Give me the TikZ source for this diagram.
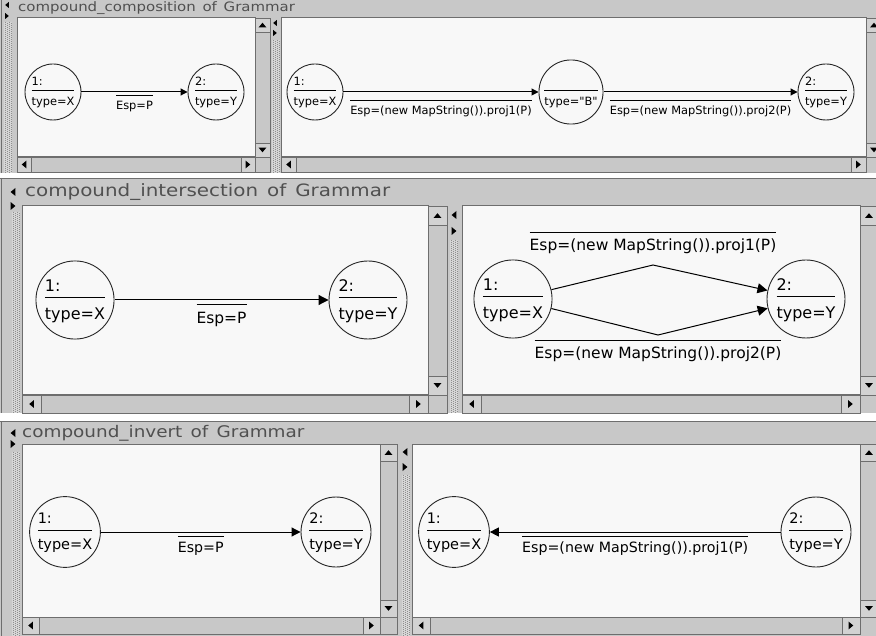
\documentclass[tikz,border=0pt]{standalone}
\usepackage{fontspec}
\setmainfont{DejaVu Sans}
\newfontfamily\rawfont{DejaVu Sans}
\usetikzlibrary{arrows.meta}
\setlength{\arrayrulewidth}{0.9pt}
\definecolor{chrome}{HTML}{C8C8C8}
\definecolor{canvas}{HTML}{F8F8F8}
\definecolor{frame}{HTML}{6E6E6E}
\definecolor{ttlgray}{HTML}{505050}
\definecolor{btn}{HTML}{D2D2D2}
\definecolor{dots}{HTML}{8E8E8E}
\definecolor{stripbg}{HTML}{D6D6D6}
\newcommand{\ndtext}[2]{\begin{tabular}{@{}l@{}}\rule[-0.4em]{0pt}{1.4em}#1\\\hline\rule[-0.1em]{0pt}{1.4em}#2\end{tabular}}
\newcommand{\oltext}[1]{\begin{tabular}{@{}c@{}}\hline\rule{0pt}{1.15em}#1\end{tabular}}
\newcommand{\tU}[3]{\fill ({#1-#3},{#2+0.6*#3}) -- ({#1+#3},{#2+0.6*#3}) -- ({#1},{#2-0.6*#3}) -- cycle;}
\newcommand{\tD}[3]{\fill ({#1-#3},{#2-0.6*#3}) -- ({#1+#3},{#2-0.6*#3}) -- ({#1},{#2+0.6*#3}) -- cycle;}
\newcommand{\tL}[3]{\fill ({#1+0.6*#3},{#2-#3}) -- ({#1+0.6*#3},{#2+#3}) -- ({#1-0.6*#3},{#2}) -- cycle;}
\newcommand{\tR}[3]{\fill ({#1-0.6*#3},{#2-#3}) -- ({#1-0.6*#3},{#2+#3}) -- ({#1+0.6*#3},{#2}) -- cycle;}
% vertical scrollbar: x1 y1 x2 y2 button
\newcommand{\vsb}[5]{%
 \pgfmathsetmacro{\sbcx}{(#1+#3)/2}\pgfmathsetmacro{\sbuy}{#2+#5/2}\pgfmathsetmacro{\sbdy}{#4-#5/2}%
 \filldraw[sbtrack] (#1,#2) rectangle (#3,#4);
 \filldraw[sbbtn] (#1,#2) rectangle (#3,#2+#5);
 \filldraw[sbbtn] (#1,#4-#5) rectangle (#3,#4);
 \tU{\sbcx}{\sbuy}{3.8}\tD{\sbcx}{\sbdy}{3.8}}
% horizontal scrollbar: x1 y1 x2 y2 button
\newcommand{\hsb}[5]{%
 \pgfmathsetmacro{\sbcy}{(#2+#4)/2}\pgfmathsetmacro{\sblx}{#1+#5/2}\pgfmathsetmacro{\sbrx}{#3-#5/2}%
 \filldraw[sbtrack] (#1,#2) rectangle (#3,#4);
 \filldraw[sbbtn] (#1,#2) rectangle (#1+#5,#4);
 \filldraw[sbbtn] (#3-#5,#2) rectangle (#3,#4);
 \tL{\sblx}{\sbcy}{3.8}\tR{\sbrx}{\sbcy}{3.8}}
% stippled splitter strip: x1 y1 y2
\newcommand{\dstrip}[3]{%
 \fill[stripbg] (#1,#2) rectangle (#1+8,#3);
 \foreach \k in {0,2}{\draw[stipple] ({#1+1+2*\k},#2) -- ({#1+1+2*\k},#3);}
 \foreach \k in {1,3}{\draw[stipple, dash phase=1pt] ({#1+1+2*\k},#2) -- ({#1+1+2*\k},#3);}}
\begin{document}
\begin{tikzpicture}[x=1pt,y=-1pt,
 cv/.style={fill=canvas, draw=frame, line width=1pt},
 sbtrack/.style={fill=chrome, draw=frame, line width=0.8pt},
 sbbtn/.style={fill=btn, draw=frame, line width=0.8pt},
 stipple/.style={draw=dots, line width=0.8pt, dash pattern=on 1pt off 1pt},
 nd/.style={circle, draw=black!85, line width=0.9pt, inner sep=0pt, text=black},
 ndA/.style={nd, minimum size=56pt, font=\fontsize{11.4}{13}\selectfont},
 ndB/.style={nd, minimum size=78pt, font=\fontsize{16}{19}\selectfont},
 ndC/.style={nd, minimum size=70pt, font=\fontsize{14.5}{17}\selectfont},
 conn/.style={draw=black, line width=1pt, -{Triangle[length=#1, width=#1]}},
 lblA/.style={inner sep=0pt, font=\fontsize{11.4}{13}\selectfont},
 lblB/.style={inner sep=0pt, font=\fontsize{15.5}{18}\selectfont},
 lblC/.style={inner sep=0pt, font=\fontsize{14.2}{17}\selectfont},
 ttl/.style={anchor=west, inner sep=0pt, text=ttlgray},
]
\useasboundingbox (0,0) rectangle (876,636);
\clip (0,0) rectangle (876,636);
\fill[white] (0,0) rectangle (876,636);

% ================= PANEL 1 =================
\fill[chrome] (0,0) rectangle (876,173);
\draw[frame, line width=1pt] (1,0) -- (1,173);
\node[ttl, font=\fontsize{13}{15}\selectfont] (t1) at (18,8) {\scalebox{1.15}[1]{compound\_composition\hspace{0.45em}of\hspace{0.45em}Grammar}};
\dstrip{4}{22}{173}
\tL{7}{5}{3}\tR{7}{16}{3}
\filldraw[cv] (17,18) rectangle (255,157);
\vsb{255}{18}{270}{157}{14}
\hsb{17}{157}{255}{172}{14}
\filldraw[sbtrack] (255,157) rectangle (270,172);
\dstrip{272}{40}{173}
\tL{275}{23}{3}\tR{275}{33}{3}
\filldraw[cv] (281,18) rectangle (866,157);
\vsb{866}{18}{882}{157}{14}
\hsb{281}{157}{866}{172}{15}

\node[ndA] (a1) at (53,92) {\ndtext{1:}{type=X}};
\node[ndA] (a2) at (216,92) {\ndtext{2:}{type=Y}};
\draw[conn=7pt] (a1) -- (a2) node[lblA, midway, anchor=north, yshift=-3pt] (la) {\oltext{Esp=P}};

\node[ndA] (b1) at (315,92) {\ndtext{1:}{type=X}};
\node[ndA, minimum size=62pt] (bb) at (571,92) {\ndtext{}{{\rawfont type="B"}}};
\node[ndA] (b2) at (826,92) {\ndtext{2:}{type=Y}};
\draw[conn=7pt] (b1) -- (bb) node[lblA, midway, anchor=north, yshift=-8pt] (lb1) {\oltext{Esp=(new MapString()).proj1(P)}};
\draw[conn=7pt] (bb) -- (b2) node[lblA, midway, anchor=north, yshift=-8pt] (lb2) {\oltext{Esp=(new MapString()).proj2(P)}};

% ================= PANEL 2 =================
\fill[chrome] (0,178) rectangle (876,413);
\draw[frame, line width=1.2pt] (0,178.6) -- (876,178.6);
\draw[frame, line width=1pt] (1,178) -- (1,413);
\node[ttl, font=\fontsize{17}{20}\selectfont] (t2) at (25,192) {\scalebox{1.17}[1]{compound\_intersection\hspace{0.45em}of\hspace{0.45em}Grammar}};
\dstrip{12}{212}{413}
\tL{13}{192}{4}\tR{13}{206}{4}
\filldraw[cv] (22,206) rectangle (428,395);
\vsb{428}{206}{447}{395}{19}
\hsb{22}{395}{428}{413}{19}
\filldraw[sbtrack] (428,395) rectangle (447,413);
\dstrip{450}{240}{413}
\tL{454}{215}{4}\tR{454}{231}{4}
\filldraw[cv] (462,206) rectangle (860,395);
\vsb{860}{206}{878}{395}{19}
\hsb{462}{395}{860}{413}{19}

\node[ndB] (c1) at (75,300) {\ndtext{1:}{type=X}};
\node[ndB] (c2) at (368,300) {\ndtext{2:}{type=Y}};
\draw[conn=10pt] (c1) -- (c2) node[lblB, midway, anchor=north, yshift=-4pt] (lc) {\oltext{Esp=P}};

\node[ndB] (d1) at (513,299) {\ndtext{1:}{type=X}};
\node[ndB] (d2) at (806,299) {\ndtext{2:}{type=Y}};
\coordinate (pu) at (653,265);
\coordinate (pl) at (658,335);
\draw[conn=10pt] (d1) -- (pu) -- (d2);
\draw[conn=10pt] (d1) -- (pl) -- (d2);
\node[lblB, anchor=north] (ld1) at (653,232) {\oltext{Esp=(new MapString()).proj1(P)}};
\node[lblB, anchor=north] (ld2) at (658,340) {\oltext{Esp=(new MapString()).proj2(P)}};

% ================= PANEL 3 =================
\fill[chrome] (0,421) rectangle (876,636);
\draw[frame, line width=1.2pt] (0,421.6) -- (876,421.6);
\draw[frame, line width=1pt] (1,421) -- (1,636);
\node[ttl, font=\fontsize{16}{19}\selectfont] (t3) at (22,433) {\scalebox{1.15}[1]{compound\_invert\hspace{0.45em}of\hspace{0.45em}Grammar}};
\dstrip{12}{452}{636}
\tL{13}{433}{4}\tR{13}{444}{4}
\filldraw[cv] (22,444) rectangle (380,617);
\vsb{380}{444}{397}{617}{17}
\hsb{22}{617}{380}{634}{17}
\filldraw[sbtrack] (380,617) rectangle (397,634);
\dstrip{402}{475}{636}
\tL{405}{452}{4}\tR{405}{467}{4}
\filldraw[cv] (412,444) rectangle (860,617);
\vsb{860}{444}{878}{617}{17}
\hsb{412}{617}{860}{634}{18}

\node[ndC] (e1) at (65,532) {\ndtext{1:}{type=X}};
\node[ndC] (e2) at (336,532) {\ndtext{2:}{type=Y}};
\draw[conn=9pt] (e1) -- (e2) node[lblC, midway, anchor=north, yshift=-3pt] (le) {\oltext{Esp=P}};

\node[ndC] (f1) at (454,532) {\ndtext{1:}{type=X}};
\node[ndC] (f2) at (816,532) {\ndtext{2:}{type=Y}};
\draw[conn=9pt] (f2) -- (f1) node[lblC, midway, anchor=north, yshift=-3pt] (lf) {\oltext{Esp=(new MapString()).proj1(P)}};
\end{tikzpicture}
\end{document}
